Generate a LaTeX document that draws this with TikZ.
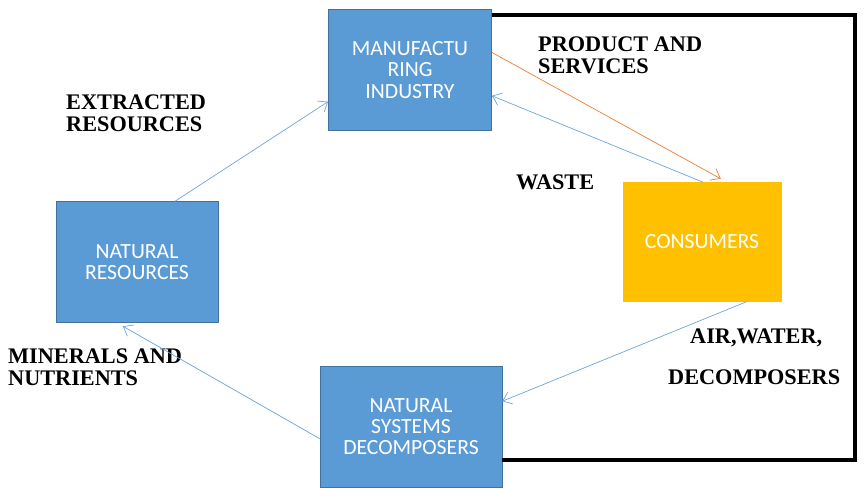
\documentclass[tikz,border=0pt]{standalone}
\usepackage{fontspec}
\setmainfont{Liberation Serif}
\newfontfamily\boxfont{Carlito}
\usepackage{tikz}
\usetikzlibrary{arrows.meta,positioning,calc}
\definecolor{boxblue}  {RGB}{91,155,213}
\definecolor{boxedge}  {RGB}{65,113,156}
\definecolor{consgold} {RGB}{255,192,0}
\definecolor{flowblue} {RGB}{110,165,220}
\definecolor{floworange}{RGB}{237,125,49}
\tikzset{
  cyclebox/.style={draw=boxedge, fill=boxblue, align=center, text=white,
                   minimum width=#1, minimum height=3.63cm,
                   font=\boxfont\fontsize{18.5}{18}\selectfont, inner sep=2pt},
  cyclebox/.default=4.9cm,
  consbox/.style ={cyclebox=4.74cm, fill=consgold, draw=consgold,
                   minimum height=3.57cm},
  flowlabel/.style={align=left, anchor=north west, inner sep=0pt,
                   font=\bfseries\fontsize{19}{18}\selectfont},
  farr/.style    ={-{Straight Barb[length=7pt,width=11pt]}, draw=flowblue, semithick},
  oarr/.style    ={farr, draw=floworange},
  loopline/.style={line width=4pt, black},
}
\begin{document}
\begin{tikzpicture}[x=0.03cm,y=-0.03cm]
  \useasboundingbox (0,0) rectangle (864,498);
  %% boxes
  \node[cyclebox] (mfg) at (410,70) {MANUFACTU\\RING\\INDUSTRY};
  \node[cyclebox=4.86cm] (natres) at (137,262) {NATURAL\\RESOURCES};
  \node[consbox] (cons) at (702,242) {CONSUMERS};
  \node[cyclebox=5.46cm] (natsys) at (411,427) {NATURAL\\SYSTEMS\\DECOMPOSERS};
  %% labels
  \node[flowlabel] (lextr) at (66,95) {EXTRACTED\\RESOURCES};
  \node[flowlabel] (lprod) at (538,37) {PRODUCT AND\\SERVICES};
  \node[flowlabel] (lwaste) at (516,175) {WASTE};
  \node[flowlabel] (lair) at (690,329) {AIR,WATER,};
  \node[flowlabel] (ldec) at (668,370) {DECOMPOSERS};
  \node[flowlabel] (lmin) at (8,349) {MINERALS AND\\NUTRIENTS};
  %% loop line
  \coordinate (ctop) at (855,15);
  \coordinate (cbot) at (855,460);
  \draw[loopline] (mfg.east |- ctop) -- (ctop) -- (cbot) -- (natsys.east |- cbot);
  %% flows
  \draw[farr] (natres.north) ++(38,0) -- ([yshift=-27]mfg.west);
  \draw[oarr] ([yshift=15]mfg.east) -- ([xshift=16,yshift=3]cons.north);
  \draw[farr] ([xshift=1]cons.north) -- ([yshift=-22]mfg.east);
  \draw[farr] ([xshift=38]cons.south) -- ([yshift=22]natsys.east);
  \draw[farr] ([yshift=-10]natsys.west) -- ([xshift=-12,yshift=-3]natres.south);
\end{tikzpicture}
\end{document}
